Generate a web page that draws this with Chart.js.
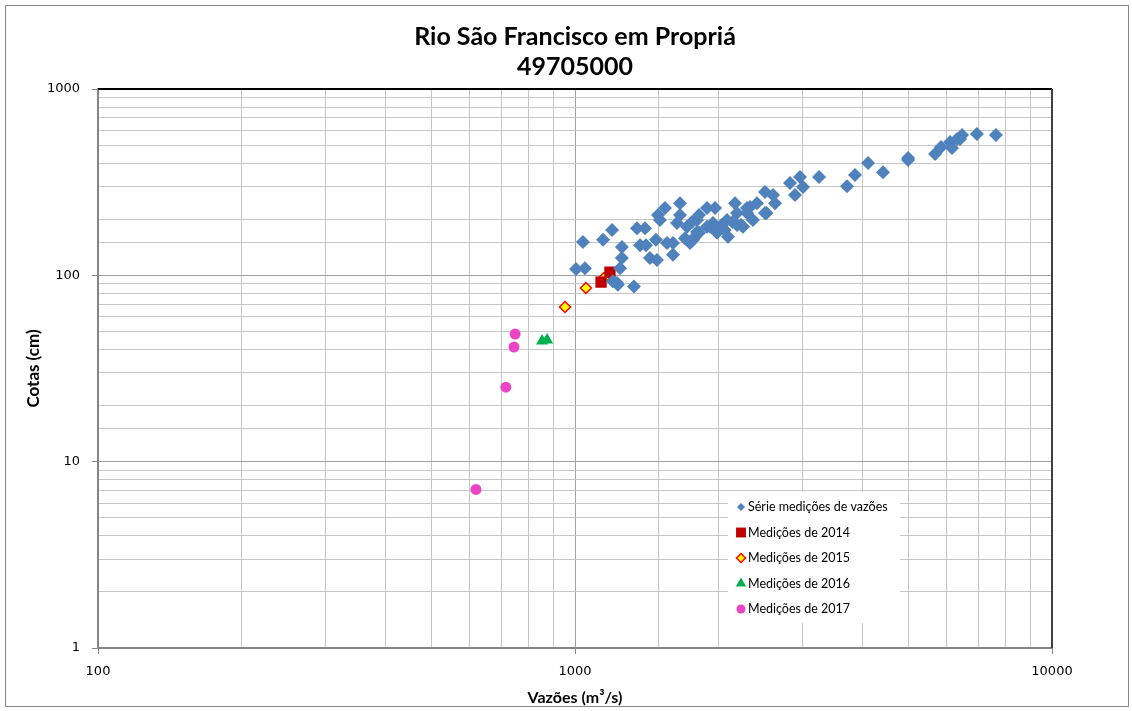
<!DOCTYPE html>
<html>
<head>
<meta charset="utf-8">
<script src="https://cdn.jsdelivr.net/npm/chart.js@4.4.0/dist/chart.umd.min.js"></script>
<style>
  html, body { margin: 0; padding: 0; background: #fff; }
  #moldura { position: absolute; left: 5px; top: 5px; width: 1122px; height: 700px; border: 1px solid #878787; }
  #grafico { position: absolute; left: 0; top: 0; }
</style>
</head>
<body>
<div id="moldura"></div>
<canvas id="grafico" width="1132" height="711" style="width:1132px;height:711px"></canvas>
<script>
// Serie historica de medicoes (vazao m3/s, cota cm)
const serieVazoes = [1005, 1049, 1039, 1145, 1196, 1254, 1254, 1243, 1225, 1200, 1230, 1329,
  1349, 1402, 1369, 1409, 1436, 1485, 1478, 1507, 1493, 1544, 1660, 1605, 1559, 1605,
  1636, 1717, 1759, 1742, 1785, 1802, 1891, 1966, 1947, 1891, 1985, 2083, 2093, 2165,
  2186, 2250, 2294, 2327, 2361, 2407, 2502, 2502, 2601, 2626, 2823, 2963, 3006, 2892,
  3248, 3717, 3864, 4115, 4423, 4991, 4991, 5686, 5853, 6113, 6172, 6323, 6478, 6415,
  6961, 7630, 1802, 1820, 1768, 1920, 2030, 2140, 2230, 2520, 2294, 2186, 2060, 1660,
  1700, 1820];
const serieCotas = [108, 109, 151, 155, 175, 142, 124, 109, 91, 93, 89, 87,
  179, 179, 145, 145, 124, 121, 155, 198, 211, 230, 244, 129, 149, 149,
  191, 182, 193, 149, 161, 171, 230, 230, 191, 182, 169, 198, 161, 244,
  186, 182, 230, 233, 198, 244, 280, 216, 270, 244, 313, 337, 298, 270,
  337, 301, 345, 401, 358, 416, 426, 448, 488, 519, 482, 539, 566, 539,
  573, 566, 198, 169, 155, 182, 186, 193, 186, 216, 216, 216, 175, 211,
  158, 211];

const vazoes2014 = [1134, 1184];
const cotas2014 = [92, 104];
const vazoes2015 = [1150, 1054, 953];
const cotas2015 = [96.7, 85.5, 67.6];
const vazoes2016 = [853, 874];
const cotas2016 = [44.4, 45];
const vazoes2017 = [749, 745, 716, 620];
const cotas2017 = [48.4, 41.2, 25.1, 7.1];

const ticksX = [100, 1000, 10000];
const ticksY = [1, 10, 100, 1000];
const nomesSeries = ['Série medições de vazões', 'Medições de 2014', 'Medições de 2015', 'Medições de 2016', 'Medições de 2017'];

const pontos = (xs, ys) => xs.map((x, i) => ({ x: x, y: ys[i] }));
const potencia10 = v => Math.abs(Math.log10(v) - Math.round(Math.log10(v))) < 1e-9;

// legenda desenhada dentro da area do grafico, como no Excel
const legendaPlugin = {
  id: 'legendaInterna',
  afterDatasetsDraw(chart) {
    const ctx = chart.ctx;
    const area = chart.chartArea;
    const x0 = area.left + 630;
    const y0 = area.top + 403;
    ctx.save();
    ctx.fillStyle = '#ffffff';
    ctx.fillRect(x0, y0, 172, 131);
    chart.data.datasets.forEach((ds, i) => {
      const y = y0 + 15 + i * 25.5;
      ctx.fillStyle = ds.backgroundColor;
      ctx.strokeStyle = ds.borderColor;
      ctx.lineWidth = ds.borderWidth;
      Chart.helpers.drawPoint(ctx, {
        pointStyle: ds.pointStyle,
        radius: ds.legendRadius,
        borderWidth: ds.borderWidth,
        rotation: 0
      }, x0 + 13, y);
      ctx.fillStyle = '#000';
      ctx.font = '12.5px Lato';
      ctx.textBaseline = 'middle';
      ctx.fillText(ds.label, x0 + 20, y);
    });
    ctx.restore();
  }
};

// borda superior e direita da area de plotagem
const bordaPlugin = {
  id: 'bordaPlot',
  beforeDatasetsDraw(chart) {
    const ctx = chart.ctx;
    const a = chart.chartArea;
    ctx.save();
    ctx.lineWidth = 2;
    ctx.strokeStyle = '#000';
    ctx.beginPath();
    ctx.moveTo(a.left, a.top);
    ctx.lineTo(a.right, a.top);
    ctx.stroke();
    ctx.strokeStyle = '#404040';
    ctx.beginPath();
    ctx.moveTo(a.right, a.top);
    ctx.lineTo(a.right, a.bottom);
    ctx.stroke();
    ctx.restore();
  }
};

const corGrade = ctx => (ctx.tick && potencia10(ctx.tick.value)) ? '#a0a0a0' : '#c6c6c6';
const corTick = ctx => (ctx.tick && potencia10(ctx.tick.value)) ? '#868686' : 'rgba(0,0,0,0)';

new Chart(document.getElementById('grafico'), {
  type: 'scatter',
  data: {
    datasets: [{
      label: nomesSeries[0],
      data: pontos(serieVazoes, serieCotas),
      pointStyle: 'rectRot',
      pointRadius: 7,
      legendRadius: 4,
      backgroundColor: '#4F81BD',
      borderColor: '#4F81BD',
      borderWidth: 0
    }, {
      label: nomesSeries[1],
      data: pontos(vazoes2014, cotas2014),
      pointStyle: 'rect',
      pointRadius: 8,
      legendRadius: 7,
      backgroundColor: '#C00000',
      borderColor: '#C00000',
      borderWidth: 0
    }, {
      label: nomesSeries[2],
      data: pontos(vazoes2015, cotas2015),
      pointStyle: 'rectRot',
      pointRadius: 5.5,
      legendRadius: 4.5,
      backgroundColor: '#FFFF00',
      borderColor: '#FF0000',
      borderWidth: 1.5
    }, {
      label: nomesSeries[3],
      data: pontos(vazoes2016, cotas2016),
      pointStyle: 'triangle',
      pointRadius: 7,
      legendRadius: 6,
      backgroundColor: '#00B050',
      borderColor: '#00B050',
      borderWidth: 0
    }, {
      label: nomesSeries[4],
      data: pontos(vazoes2017, cotas2017),
      pointStyle: 'circle',
      pointRadius: 5.5,
      legendRadius: 4.5,
      backgroundColor: '#EA45C2',
      borderColor: '#EA45C2',
      borderWidth: 0
    }]
  },
  options: {
    responsive: false,
    animation: false,
    devicePixelRatio: 1,
    layout: { padding: { left: 5, right: 80, top: 0, bottom: 4 } },
    scales: {
      x: {
        type: 'logarithmic',
        min: 100,
        max: 10000,
        afterFit: s => { s.height = 59; },
        border: { color: '#868686', width: 2 },
        grid: { color: corGrade, tickColor: corTick, tickLength: 6, lineWidth: 1 },
        ticks: {
          autoSkip: false,
          maxRotation: 0,
          padding: 10,
          color: '#000',
          font: { family: 'DejaVu Sans', size: 13 },
          callback: v => ticksX.includes(v) ? String(v) : ''
        },
        title: {
          display: true,
          text: 'Vazões (m³/s)',
          color: '#000',
          font: { family: 'Lato', size: 16, weight: 'bold' },
          padding: { top: 4, bottom: 0 }
        }
      },
      y: {
        type: 'logarithmic',
        min: 1,
        max: 1000,
        afterFit: s => { s.width = 93; },
        border: { color: '#868686', width: 2 },
        grid: { color: corGrade, tickColor: corTick, tickLength: 6, lineWidth: 1 },
        ticks: {
          autoSkip: false,
          padding: 12,
          color: '#000',
          font: { family: 'DejaVu Sans', size: 13 },
          callback: v => ticksY.includes(v) ? String(v) : ''
        },
        title: {
          display: true,
          text: 'Cotas (cm)',
          color: '#000',
          font: { family: 'Lato', size: 17, weight: 'bold' },
          padding: { top: 18, bottom: 0 }
        }
      }
    },
    plugins: {
      legend: { display: false },
      tooltip: { enabled: false },
      title: {
        display: true,
        fullSize: false,
        text: ['Rio São Francisco em Propriá', '49705000'],
        color: '#000',
        font: { family: 'Lato', size: 25, weight: 'bold', lineHeight: 1.2 },
        padding: { top: 22, bottom: 7 }
      }
    }
  },
  plugins: [bordaPlugin, legendaPlugin]
});
</script>
</body>
</html>
